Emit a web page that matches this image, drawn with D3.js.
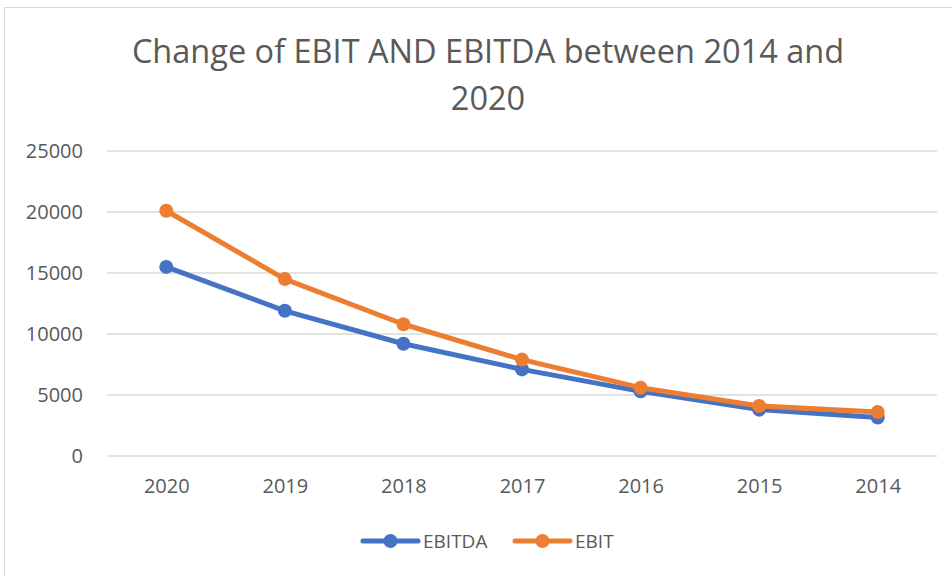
<!DOCTYPE html>
<html>
<head>
<meta charset="utf-8">
<script src="https://d3js.org/d3.v7.min.js"></script>
<style>
  body { margin: 0; background: #fff; }
  text { font-family: "Open Sans", "Noto Sans", sans-serif; fill: #595959; }
</style>
</head>
<body>
<div id="chart"></div>
<script>
const years = ["2020", "2019", "2018", "2017", "2016", "2015", "2014"];
const ebitda = [15500, 11900, 9200, 7100, 5300, 3800, 3150];
const ebit = [20100, 14500, 10800, 7900, 5600, 4100, 3600];
const yTicks = [0, 5000, 10000, 15000, 20000, 25000];

const width = 952, height = 576;
const margin = {top: 151, right: 15, bottom: 120, left: 107};

const svg = d3.select("#chart").append("svg")
    .attr("width", width)
    .attr("height", height);

// chart frame
svg.append("rect")
    .attr("x", 4.5).attr("y", 7.5)
    .attr("width", width + 10).attr("height", height - 7)
    .attr("fill", "none")
    .attr("stroke", "#d9d9d9");

const x = d3.scalePoint()
    .domain(years)
    .range([margin.left, width - margin.right])
    .padding(0.5);

const y = d3.scaleLinear()
    .domain([0, 25000])
    .range([456, margin.top]);

// gridlines
svg.append("g")
    .selectAll("line")
    .data(yTicks)
    .join("line")
    .attr("x1", margin.left)
    .attr("x2", width - margin.right)
    .attr("y1", d => y(d))
    .attr("y2", d => y(d))
    .attr("stroke", "#d9d9d9")
    .attr("stroke-width", 1.3);

// y axis labels
const yAxis = d3.axisLeft(y).tickValues(yTicks).tickFormat(d3.format("d")).tickSize(0).tickPadding(0);
svg.append("g")
    .attr("transform", "translate(" + (margin.left - 24) + ",0)")
    .call(yAxis)
    .call(g => g.select(".domain").remove())
    .selectAll("text")
    .style("font-size", "20px")
    .style("font-family", "'Open Sans', sans-serif")
    .attr("fill", "#595959");

// x axis labels
const xAxis = d3.axisBottom(x).tickSize(0).tickPadding(0);
svg.append("g")
    .attr("transform", "translate(0,479)")
    .call(xAxis)
    .call(g => g.select(".domain").remove())
    .selectAll("text")
    .style("font-size", "20px")
    .style("font-family", "'Open Sans', sans-serif")
    .attr("fill", "#595959");

const series = [
    {name: "EBITDA", values: ebitda, color: "#4472C4"},
    {name: "EBIT", values: ebit, color: "#ED7D31"}
];

const line = d3.line()
    .x((d, i) => x(years[i]))
    .y(d => y(d));

series.forEach(s => {
    svg.append("path")
        .datum(s.values)
        .attr("fill", "none")
        .attr("stroke", s.color)
        .attr("stroke-width", 5)
        .attr("stroke-linejoin", "round")
        .attr("d", line);

    svg.append("g")
        .selectAll("circle")
        .data(s.values)
        .join("circle")
        .attr("cx", (d, i) => x(years[i]))
        .attr("cy", d => y(d))
        .attr("r", 7)
        .attr("fill", s.color);
});

// title
const title = svg.append("text")
    .attr("text-anchor", "middle")
    .style("font-size", "32.5px");
title.append("tspan").attr("x", 488).attr("y", 63).text("Change of EBIT AND EBITDA between 2014 and");
title.append("tspan").attr("x", 488).attr("y", 110).text("2020");

// legend
const legendPos = [{lx: 363, tx: 423}, {lx: 515, tx: 575}];
series.forEach((s, i) => {
    const g = svg.append("g");
    const p = legendPos[i];
    g.append("line")
        .attr("x1", p.lx).attr("x2", p.lx + 55)
        .attr("y1", 541).attr("y2", 541)
        .attr("stroke", s.color)
        .attr("stroke-width", 5)
        .attr("stroke-linecap", "round");
    g.append("circle")
        .attr("cx", p.lx + 27.5).attr("cy", 541)
        .attr("r", 7)
        .attr("fill", s.color);
    g.append("text")
        .attr("x", p.tx).attr("y", 541)
        .attr("dy", "0.35em")
        .style("font-size", "19px")
        .text(s.name);
});
</script>
</body>
</html>
